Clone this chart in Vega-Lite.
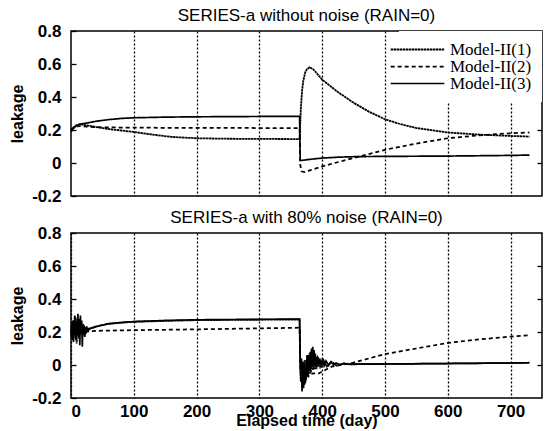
{
  "$schema": "https://vega.github.io/schema/vega-lite/v6.json",
  "background": "white",
  "padding": {"left": 8, "top": 6, "right": 2, "bottom": 0},
  "config": {
    "font": "Liberation Sans",
    "view": {"stroke": "black", "strokeWidth": 1.5},
    "title": {"fontSize": 17, "fontWeight": "normal", "color": "black", "offset": -3},
    "concat": {"spacing": 3},
    "line": {"color": "black"},
    "axis": {
      "labelFont": "Liberation Sans", "labelFontWeight": "bold", "labelFontSize": 17, "labelColor": "black",
      "titleFont": "Liberation Sans", "titleFontWeight": "bold", "titleFontSize": 16, "titleColor": "black",
      "domain": false, "tickColor": "black", "tickWidth": 1.3
    },
    "legend": {
      "orient": "top-right", "offset": 0, "title": null, "symbolType": "M-12,0H12", "symbolSize": 20,
      "symbolStrokeColor": "black", "labelFont": "Liberation Serif", "labelFontSize": 17, "labelColor": "black",
      "fillColor": "white", "padding": 10, "rowPadding": -6, "labelOffset": 24
    }
  },
  "datasets": {
    "rows": [
      {"panel": "a", "model": "Model-II(1)", "day": 0, "leakage": 0.2},
      {"panel": "a", "model": "Model-II(1)", "day": 4, "leakage": 0.215},
      {"panel": "a", "model": "Model-II(1)", "day": 8, "leakage": 0.228},
      {"panel": "a", "model": "Model-II(1)", "day": 14, "leakage": 0.235},
      {"panel": "a", "model": "Model-II(1)", "day": 25, "leakage": 0.228},
      {"panel": "a", "model": "Model-II(1)", "day": 40, "leakage": 0.218},
      {"panel": "a", "model": "Model-II(1)", "day": 60, "leakage": 0.206},
      {"panel": "a", "model": "Model-II(1)", "day": 80, "leakage": 0.197},
      {"panel": "a", "model": "Model-II(1)", "day": 100, "leakage": 0.188},
      {"panel": "a", "model": "Model-II(1)", "day": 130, "leakage": 0.172},
      {"panel": "a", "model": "Model-II(1)", "day": 160, "leakage": 0.158},
      {"panel": "a", "model": "Model-II(1)", "day": 200, "leakage": 0.15},
      {"panel": "a", "model": "Model-II(1)", "day": 250, "leakage": 0.147},
      {"panel": "a", "model": "Model-II(1)", "day": 300, "leakage": 0.146},
      {"panel": "a", "model": "Model-II(1)", "day": 364, "leakage": 0.145},
      {"panel": "a", "model": "Model-II(1)", "day": 366, "leakage": 0.33},
      {"panel": "a", "model": "Model-II(1)", "day": 368, "leakage": 0.44},
      {"panel": "a", "model": "Model-II(1)", "day": 370, "leakage": 0.5},
      {"panel": "a", "model": "Model-II(1)", "day": 373, "leakage": 0.55},
      {"panel": "a", "model": "Model-II(1)", "day": 376, "leakage": 0.57},
      {"panel": "a", "model": "Model-II(1)", "day": 380, "leakage": 0.58},
      {"panel": "a", "model": "Model-II(1)", "day": 385, "leakage": 0.57},
      {"panel": "a", "model": "Model-II(1)", "day": 390, "leakage": 0.55},
      {"panel": "a", "model": "Model-II(1)", "day": 400, "leakage": 0.505},
      {"panel": "a", "model": "Model-II(1)", "day": 425, "leakage": 0.43},
      {"panel": "a", "model": "Model-II(1)", "day": 450, "leakage": 0.365},
      {"panel": "a", "model": "Model-II(1)", "day": 475, "leakage": 0.31},
      {"panel": "a", "model": "Model-II(1)", "day": 500, "leakage": 0.265},
      {"panel": "a", "model": "Model-II(1)", "day": 525, "leakage": 0.235},
      {"panel": "a", "model": "Model-II(1)", "day": 550, "leakage": 0.212},
      {"panel": "a", "model": "Model-II(1)", "day": 600, "leakage": 0.185},
      {"panel": "a", "model": "Model-II(1)", "day": 650, "leakage": 0.172},
      {"panel": "a", "model": "Model-II(1)", "day": 700, "leakage": 0.164},
      {"panel": "a", "model": "Model-II(1)", "day": 730, "leakage": 0.16},

      {"panel": "a", "model": "Model-II(2)", "day": 0, "leakage": 0.2},
      {"panel": "a", "model": "Model-II(2)", "day": 4, "leakage": 0.215},
      {"panel": "a", "model": "Model-II(2)", "day": 8, "leakage": 0.222},
      {"panel": "a", "model": "Model-II(2)", "day": 14, "leakage": 0.224},
      {"panel": "a", "model": "Model-II(2)", "day": 25, "leakage": 0.22},
      {"panel": "a", "model": "Model-II(2)", "day": 50, "leakage": 0.216},
      {"panel": "a", "model": "Model-II(2)", "day": 100, "leakage": 0.214},
      {"panel": "a", "model": "Model-II(2)", "day": 200, "leakage": 0.213},
      {"panel": "a", "model": "Model-II(2)", "day": 300, "leakage": 0.212},
      {"panel": "a", "model": "Model-II(2)", "day": 364, "leakage": 0.212},
      {"panel": "a", "model": "Model-II(2)", "day": 365, "leakage": -0.01},
      {"panel": "a", "model": "Model-II(2)", "day": 367, "leakage": -0.05},
      {"panel": "a", "model": "Model-II(2)", "day": 372, "leakage": -0.055},
      {"panel": "a", "model": "Model-II(2)", "day": 380, "leakage": -0.045},
      {"panel": "a", "model": "Model-II(2)", "day": 400, "leakage": -0.02},
      {"panel": "a", "model": "Model-II(2)", "day": 430, "leakage": 0.01},
      {"panel": "a", "model": "Model-II(2)", "day": 450, "leakage": 0.03},
      {"panel": "a", "model": "Model-II(2)", "day": 500, "leakage": 0.08},
      {"panel": "a", "model": "Model-II(2)", "day": 550, "leakage": 0.118},
      {"panel": "a", "model": "Model-II(2)", "day": 600, "leakage": 0.15},
      {"panel": "a", "model": "Model-II(2)", "day": 650, "leakage": 0.168},
      {"panel": "a", "model": "Model-II(2)", "day": 700, "leakage": 0.18},
      {"panel": "a", "model": "Model-II(2)", "day": 730, "leakage": 0.185},

      {"panel": "a", "model": "Model-II(3)", "day": 0, "leakage": 0.19},
      {"panel": "a", "model": "Model-II(3)", "day": 4, "leakage": 0.21},
      {"panel": "a", "model": "Model-II(3)", "day": 8, "leakage": 0.225},
      {"panel": "a", "model": "Model-II(3)", "day": 14, "leakage": 0.235},
      {"panel": "a", "model": "Model-II(3)", "day": 25, "leakage": 0.242},
      {"panel": "a", "model": "Model-II(3)", "day": 40, "leakage": 0.253},
      {"panel": "a", "model": "Model-II(3)", "day": 60, "leakage": 0.263},
      {"panel": "a", "model": "Model-II(3)", "day": 80, "leakage": 0.27},
      {"panel": "a", "model": "Model-II(3)", "day": 100, "leakage": 0.274},
      {"panel": "a", "model": "Model-II(3)", "day": 150, "leakage": 0.278},
      {"panel": "a", "model": "Model-II(3)", "day": 200, "leakage": 0.28},
      {"panel": "a", "model": "Model-II(3)", "day": 300, "leakage": 0.282},
      {"panel": "a", "model": "Model-II(3)", "day": 364, "leakage": 0.282},
      {"panel": "a", "model": "Model-II(3)", "day": 365, "leakage": 0.015},
      {"panel": "a", "model": "Model-II(3)", "day": 370, "leakage": 0.017},
      {"panel": "a", "model": "Model-II(3)", "day": 380, "leakage": 0.022},
      {"panel": "a", "model": "Model-II(3)", "day": 400, "leakage": 0.03},
      {"panel": "a", "model": "Model-II(3)", "day": 430, "leakage": 0.036},
      {"panel": "a", "model": "Model-II(3)", "day": 460, "leakage": 0.039},
      {"panel": "a", "model": "Model-II(3)", "day": 500, "leakage": 0.04},
      {"panel": "a", "model": "Model-II(3)", "day": 600, "leakage": 0.042},
      {"panel": "a", "model": "Model-II(3)", "day": 700, "leakage": 0.046},
      {"panel": "a", "model": "Model-II(3)", "day": 730, "leakage": 0.048},

      {"panel": "b", "model": "Model-II(1)", "day": 0, "leakage": 0.21},
      {"panel": "b", "model": "Model-II(1)", "day": 1, "leakage": 0.17},
      {"panel": "b", "model": "Model-II(1)", "day": 2, "leakage": 0.26},
      {"panel": "b", "model": "Model-II(1)", "day": 3, "leakage": 0.15},
      {"panel": "b", "model": "Model-II(1)", "day": 4, "leakage": 0.27},
      {"panel": "b", "model": "Model-II(1)", "day": 5, "leakage": 0.19},
      {"panel": "b", "model": "Model-II(1)", "day": 6, "leakage": 0.3},
      {"panel": "b", "model": "Model-II(1)", "day": 7, "leakage": 0.16},
      {"panel": "b", "model": "Model-II(1)", "day": 8, "leakage": 0.24},
      {"panel": "b", "model": "Model-II(1)", "day": 9, "leakage": 0.13},
      {"panel": "b", "model": "Model-II(1)", "day": 10, "leakage": 0.28},
      {"panel": "b", "model": "Model-II(1)", "day": 11, "leakage": 0.18},
      {"panel": "b", "model": "Model-II(1)", "day": 12, "leakage": 0.26},
      {"panel": "b", "model": "Model-II(1)", "day": 13, "leakage": 0.16},
      {"panel": "b", "model": "Model-II(1)", "day": 14, "leakage": 0.25},
      {"panel": "b", "model": "Model-II(1)", "day": 15, "leakage": 0.2},
      {"panel": "b", "model": "Model-II(1)", "day": 17, "leakage": 0.23},
      {"panel": "b", "model": "Model-II(1)", "day": 19, "leakage": 0.18},
      {"panel": "b", "model": "Model-II(1)", "day": 21, "leakage": 0.22},
      {"panel": "b", "model": "Model-II(1)", "day": 23, "leakage": 0.2},
      {"panel": "b", "model": "Model-II(1)", "day": 26, "leakage": 0.215},
      {"panel": "b", "model": "Model-II(1)", "day": 30, "leakage": 0.222},
      {"panel": "b", "model": "Model-II(1)", "day": 40, "leakage": 0.234},
      {"panel": "b", "model": "Model-II(1)", "day": 60, "leakage": 0.25},
      {"panel": "b", "model": "Model-II(1)", "day": 100, "leakage": 0.262},
      {"panel": "b", "model": "Model-II(1)", "day": 200, "leakage": 0.272},
      {"panel": "b", "model": "Model-II(1)", "day": 364, "leakage": 0.276},
      {"panel": "b", "model": "Model-II(1)", "day": 365, "leakage": 0.02},
      {"panel": "b", "model": "Model-II(1)", "day": 366, "leakage": -0.1},
      {"panel": "b", "model": "Model-II(1)", "day": 367, "leakage": 0.04},
      {"panel": "b", "model": "Model-II(1)", "day": 368, "leakage": -0.13},
      {"panel": "b", "model": "Model-II(1)", "day": 369, "leakage": 0.02},
      {"panel": "b", "model": "Model-II(1)", "day": 370, "leakage": -0.14},
      {"panel": "b", "model": "Model-II(1)", "day": 371, "leakage": -0.02},
      {"panel": "b", "model": "Model-II(1)", "day": 372, "leakage": 0.03},
      {"panel": "b", "model": "Model-II(1)", "day": 373, "leakage": -0.11},
      {"panel": "b", "model": "Model-II(1)", "day": 374, "leakage": -0.08},
      {"panel": "b", "model": "Model-II(1)", "day": 375, "leakage": 0.01},
      {"panel": "b", "model": "Model-II(1)", "day": 376, "leakage": 0.06},
      {"panel": "b", "model": "Model-II(1)", "day": 377, "leakage": -0.06},
      {"panel": "b", "model": "Model-II(1)", "day": 378, "leakage": -0.07},
      {"panel": "b", "model": "Model-II(1)", "day": 379, "leakage": 0.03},
      {"panel": "b", "model": "Model-II(1)", "day": 380, "leakage": 0.07},
      {"panel": "b", "model": "Model-II(1)", "day": 381, "leakage": -0.05},
      {"panel": "b", "model": "Model-II(1)", "day": 382, "leakage": -0.04},
      {"panel": "b", "model": "Model-II(1)", "day": 383, "leakage": 0.08},
      {"panel": "b", "model": "Model-II(1)", "day": 384, "leakage": 0.06},
      {"panel": "b", "model": "Model-II(1)", "day": 385, "leakage": -0.02},
      {"panel": "b", "model": "Model-II(1)", "day": 386, "leakage": -0.03},
      {"panel": "b", "model": "Model-II(1)", "day": 387, "leakage": 0.07},
      {"panel": "b", "model": "Model-II(1)", "day": 388, "leakage": 0.05},
      {"panel": "b", "model": "Model-II(1)", "day": 389, "leakage": -0.02},
      {"panel": "b", "model": "Model-II(1)", "day": 391, "leakage": -0.02},
      {"panel": "b", "model": "Model-II(1)", "day": 393, "leakage": 0.045},
      {"panel": "b", "model": "Model-II(1)", "day": 395, "leakage": 0.03},
      {"panel": "b", "model": "Model-II(1)", "day": 397, "leakage": -0.015},
      {"panel": "b", "model": "Model-II(1)", "day": 399, "leakage": -0.01},
      {"panel": "b", "model": "Model-II(1)", "day": 402, "leakage": 0.03},
      {"panel": "b", "model": "Model-II(1)", "day": 404, "leakage": 0.02},
      {"panel": "b", "model": "Model-II(1)", "day": 407, "leakage": -0.01},
      {"panel": "b", "model": "Model-II(1)", "day": 410, "leakage": -0.005},
      {"panel": "b", "model": "Model-II(1)", "day": 414, "leakage": 0.02},
      {"panel": "b", "model": "Model-II(1)", "day": 418, "leakage": 0.012},
      {"panel": "b", "model": "Model-II(1)", "day": 423, "leakage": -0.004},
      {"panel": "b", "model": "Model-II(1)", "day": 428, "leakage": 0.002},
      {"panel": "b", "model": "Model-II(1)", "day": 434, "leakage": 0.01},
      {"panel": "b", "model": "Model-II(1)", "day": 440, "leakage": 0.006},
      {"panel": "b", "model": "Model-II(1)", "day": 500, "leakage": 0.006},
      {"panel": "b", "model": "Model-II(1)", "day": 600, "leakage": 0.009},
      {"panel": "b", "model": "Model-II(1)", "day": 730, "leakage": 0.013},

      {"panel": "b", "model": "Model-II(2)", "day": 0, "leakage": 0.2},
      {"panel": "b", "model": "Model-II(2)", "day": 5, "leakage": 0.22},
      {"panel": "b", "model": "Model-II(2)", "day": 10, "leakage": 0.19},
      {"panel": "b", "model": "Model-II(2)", "day": 15, "leakage": 0.215},
      {"panel": "b", "model": "Model-II(2)", "day": 20, "leakage": 0.2},
      {"panel": "b", "model": "Model-II(2)", "day": 30, "leakage": 0.205},
      {"panel": "b", "model": "Model-II(2)", "day": 50, "leakage": 0.208},
      {"panel": "b", "model": "Model-II(2)", "day": 100, "leakage": 0.211},
      {"panel": "b", "model": "Model-II(2)", "day": 200, "leakage": 0.216},
      {"panel": "b", "model": "Model-II(2)", "day": 300, "leakage": 0.222},
      {"panel": "b", "model": "Model-II(2)", "day": 364, "leakage": 0.226},
      {"panel": "b", "model": "Model-II(2)", "day": 365, "leakage": 0.0},
      {"panel": "b", "model": "Model-II(2)", "day": 367, "leakage": -0.1},
      {"panel": "b", "model": "Model-II(2)", "day": 369, "leakage": -0.03},
      {"panel": "b", "model": "Model-II(2)", "day": 371, "leakage": -0.09},
      {"panel": "b", "model": "Model-II(2)", "day": 374, "leakage": -0.04},
      {"panel": "b", "model": "Model-II(2)", "day": 378, "leakage": -0.07},
      {"panel": "b", "model": "Model-II(2)", "day": 385, "leakage": -0.05},
      {"panel": "b", "model": "Model-II(2)", "day": 395, "leakage": -0.05},
      {"panel": "b", "model": "Model-II(2)", "day": 405, "leakage": -0.03},
      {"panel": "b", "model": "Model-II(2)", "day": 415, "leakage": -0.01},
      {"panel": "b", "model": "Model-II(2)", "day": 430, "leakage": 0.0},
      {"panel": "b", "model": "Model-II(2)", "day": 450, "leakage": 0.015},
      {"panel": "b", "model": "Model-II(2)", "day": 500, "leakage": 0.066},
      {"panel": "b", "model": "Model-II(2)", "day": 550, "leakage": 0.1},
      {"panel": "b", "model": "Model-II(2)", "day": 600, "leakage": 0.134},
      {"panel": "b", "model": "Model-II(2)", "day": 650, "leakage": 0.155},
      {"panel": "b", "model": "Model-II(2)", "day": 700, "leakage": 0.172},
      {"panel": "b", "model": "Model-II(2)", "day": 730, "leakage": 0.18},

      {"panel": "b", "model": "Model-II(3)", "day": 0, "leakage": 0.2},
      {"panel": "b", "model": "Model-II(3)", "day": 1, "leakage": 0.24},
      {"panel": "b", "model": "Model-II(3)", "day": 2, "leakage": 0.16},
      {"panel": "b", "model": "Model-II(3)", "day": 3, "leakage": 0.27},
      {"panel": "b", "model": "Model-II(3)", "day": 4, "leakage": 0.14},
      {"panel": "b", "model": "Model-II(3)", "day": 5, "leakage": 0.25},
      {"panel": "b", "model": "Model-II(3)", "day": 6, "leakage": 0.18},
      {"panel": "b", "model": "Model-II(3)", "day": 7, "leakage": 0.29},
      {"panel": "b", "model": "Model-II(3)", "day": 8, "leakage": 0.15},
      {"panel": "b", "model": "Model-II(3)", "day": 9, "leakage": 0.26},
      {"panel": "b", "model": "Model-II(3)", "day": 10, "leakage": 0.2},
      {"panel": "b", "model": "Model-II(3)", "day": 11, "leakage": 0.31},
      {"panel": "b", "model": "Model-II(3)", "day": 12, "leakage": 0.17},
      {"panel": "b", "model": "Model-II(3)", "day": 13, "leakage": 0.28},
      {"panel": "b", "model": "Model-II(3)", "day": 14, "leakage": 0.12},
      {"panel": "b", "model": "Model-II(3)", "day": 15, "leakage": 0.3},
      {"panel": "b", "model": "Model-II(3)", "day": 16, "leakage": 0.19},
      {"panel": "b", "model": "Model-II(3)", "day": 17, "leakage": 0.27},
      {"panel": "b", "model": "Model-II(3)", "day": 18, "leakage": 0.11},
      {"panel": "b", "model": "Model-II(3)", "day": 19, "leakage": 0.25},
      {"panel": "b", "model": "Model-II(3)", "day": 20, "leakage": 0.2},
      {"panel": "b", "model": "Model-II(3)", "day": 21, "leakage": 0.24},
      {"panel": "b", "model": "Model-II(3)", "day": 22, "leakage": 0.17},
      {"panel": "b", "model": "Model-II(3)", "day": 23, "leakage": 0.23},
      {"panel": "b", "model": "Model-II(3)", "day": 24, "leakage": 0.19},
      {"panel": "b", "model": "Model-II(3)", "day": 25, "leakage": 0.235},
      {"panel": "b", "model": "Model-II(3)", "day": 26, "leakage": 0.205},
      {"panel": "b", "model": "Model-II(3)", "day": 27, "leakage": 0.225},
      {"panel": "b", "model": "Model-II(3)", "day": 28, "leakage": 0.21},
      {"panel": "b", "model": "Model-II(3)", "day": 30, "leakage": 0.22},
      {"panel": "b", "model": "Model-II(3)", "day": 35, "leakage": 0.225},
      {"panel": "b", "model": "Model-II(3)", "day": 40, "leakage": 0.232},
      {"panel": "b", "model": "Model-II(3)", "day": 50, "leakage": 0.242},
      {"panel": "b", "model": "Model-II(3)", "day": 60, "leakage": 0.25},
      {"panel": "b", "model": "Model-II(3)", "day": 80, "leakage": 0.258},
      {"panel": "b", "model": "Model-II(3)", "day": 100, "leakage": 0.263},
      {"panel": "b", "model": "Model-II(3)", "day": 150, "leakage": 0.27},
      {"panel": "b", "model": "Model-II(3)", "day": 200, "leakage": 0.274},
      {"panel": "b", "model": "Model-II(3)", "day": 300, "leakage": 0.277},
      {"panel": "b", "model": "Model-II(3)", "day": 364, "leakage": 0.278},
      {"panel": "b", "model": "Model-II(3)", "day": 365, "leakage": 0.02},
      {"panel": "b", "model": "Model-II(3)", "day": 366, "leakage": -0.1},
      {"panel": "b", "model": "Model-II(3)", "day": 367, "leakage": -0.03},
      {"panel": "b", "model": "Model-II(3)", "day": 368, "leakage": -0.16},
      {"panel": "b", "model": "Model-II(3)", "day": 369, "leakage": -0.05},
      {"panel": "b", "model": "Model-II(3)", "day": 370, "leakage": -0.14},
      {"panel": "b", "model": "Model-II(3)", "day": 371, "leakage": 0.0},
      {"panel": "b", "model": "Model-II(3)", "day": 372, "leakage": -0.12},
      {"panel": "b", "model": "Model-II(3)", "day": 373, "leakage": -0.02},
      {"panel": "b", "model": "Model-II(3)", "day": 374, "leakage": -0.09},
      {"panel": "b", "model": "Model-II(3)", "day": 375, "leakage": 0.03},
      {"panel": "b", "model": "Model-II(3)", "day": 376, "leakage": -0.07},
      {"panel": "b", "model": "Model-II(3)", "day": 377, "leakage": 0.05},
      {"panel": "b", "model": "Model-II(3)", "day": 378, "leakage": -0.04},
      {"panel": "b", "model": "Model-II(3)", "day": 379, "leakage": 0.06},
      {"panel": "b", "model": "Model-II(3)", "day": 380, "leakage": -0.03},
      {"panel": "b", "model": "Model-II(3)", "day": 381, "leakage": 0.08},
      {"panel": "b", "model": "Model-II(3)", "day": 382, "leakage": -0.02},
      {"panel": "b", "model": "Model-II(3)", "day": 383, "leakage": 0.1},
      {"panel": "b", "model": "Model-II(3)", "day": 384, "leakage": 0.0},
      {"panel": "b", "model": "Model-II(3)", "day": 385, "leakage": 0.11},
      {"panel": "b", "model": "Model-II(3)", "day": 386, "leakage": -0.01},
      {"panel": "b", "model": "Model-II(3)", "day": 387, "leakage": 0.09},
      {"panel": "b", "model": "Model-II(3)", "day": 388, "leakage": 0.0},
      {"panel": "b", "model": "Model-II(3)", "day": 389, "leakage": 0.07},
      {"panel": "b", "model": "Model-II(3)", "day": 390, "leakage": -0.01},
      {"panel": "b", "model": "Model-II(3)", "day": 392, "leakage": 0.05},
      {"panel": "b", "model": "Model-II(3)", "day": 394, "leakage": -0.01},
      {"panel": "b", "model": "Model-II(3)", "day": 396, "leakage": 0.04},
      {"panel": "b", "model": "Model-II(3)", "day": 398, "leakage": 0.0},
      {"panel": "b", "model": "Model-II(3)", "day": 400, "leakage": 0.03},
      {"panel": "b", "model": "Model-II(3)", "day": 403, "leakage": -0.005},
      {"panel": "b", "model": "Model-II(3)", "day": 406, "leakage": 0.025},
      {"panel": "b", "model": "Model-II(3)", "day": 410, "leakage": 0.0},
      {"panel": "b", "model": "Model-II(3)", "day": 414, "leakage": 0.018},
      {"panel": "b", "model": "Model-II(3)", "day": 418, "leakage": 0.0},
      {"panel": "b", "model": "Model-II(3)", "day": 422, "leakage": 0.012},
      {"panel": "b", "model": "Model-II(3)", "day": 428, "leakage": 0.002},
      {"panel": "b", "model": "Model-II(3)", "day": 435, "leakage": 0.008},
      {"panel": "b", "model": "Model-II(3)", "day": 445, "leakage": 0.003},
      {"panel": "b", "model": "Model-II(3)", "day": 460, "leakage": 0.005},
      {"panel": "b", "model": "Model-II(3)", "day": 500, "leakage": 0.006},
      {"panel": "b", "model": "Model-II(3)", "day": 600, "leakage": 0.009},
      {"panel": "b", "model": "Model-II(3)", "day": 700, "leakage": 0.012},
      {"panel": "b", "model": "Model-II(3)", "day": 730, "leakage": 0.014}
    ]
  },
  "data": {"name": "rows"},
  "vconcat": [
    {
      "title": "SERIES-a without noise (RAIN=0)",
      "width": 471,
      "height": 165,
      "transform": [{"filter": "datum.panel == 'a'"}],
      "encoding": {
        "x": {
          "field": "day", "type": "quantitative",
          "scale": {"domain": [0, 750], "nice": false, "zero": false},
          "axis": {"values": [100, 200, 300, 400, 500, 600, 700], "labels": false, "ticks": false, "title": null,
                   "grid": true, "gridColor": "black", "gridDash": [2, 2], "gridWidth": 1.3, "gridOpacity": 1}
        },
        "strokeDash": {
          "field": "model", "type": "nominal",
          "scale": {"domain": ["Model-II(1)", "Model-II(2)", "Model-II(3)"], "range": [[2.5, 0.5], [4, 3], [1, 0]]}
        },
        "strokeWidth": {
          "field": "model", "type": "nominal",
          "scale": {"domain": ["Model-II(1)", "Model-II(2)", "Model-II(3)"], "range": [1.8, 1.7, 2.1]}
        }
      },
      "layer": [
        {
          "transform": [{"filter": "datum.model != 'Model-II(3)'"}],
          "mark": "line",
          "encoding": {
            "y": {
              "field": "leakage", "type": "quantitative",
              "scale": {"domain": [-0.2, 0.8], "nice": false, "zero": false},
              "axis": {"orient": "left", "values": [-0.2, 0, 0.2, 0.4, 0.6, 0.8], "grid": false, "title": "leakage",
                       "labelExpr": "abs(datum.value) < 1e-9 ? '0' : (datum.value < 0 ? '-' + format(-datum.value, '.1f') : format(datum.value, '.1f'))",
                       "offset": -5, "tickSize": 5, "labelPadding": 10, "titlePadding": 6}
            }
          }
        },
        {
          "transform": [{"filter": "datum.model == 'Model-II(3)'"}],
          "mark": "line",
          "encoding": {
            "y": {
              "field": "leakage", "type": "quantitative",
              "scale": {"domain": [-0.2, 0.8], "nice": false, "zero": false},
              "axis": {"orient": "right", "values": [0, 0.2, 0.4, 0.6], "grid": false, "title": null, "labels": false,
                       "offset": -5, "tickSize": 5}
            }
          }
        }
      ],
      "resolve": {"axis": {"y": "independent"}}
    },
    {
      "title": "SERIES-a with 80% noise (RAIN=0)",
      "width": 471,
      "height": 165,
      "transform": [{"filter": "datum.panel == 'b'"}],
      "encoding": {
        "x": {
          "field": "day", "type": "quantitative",
          "scale": {"domain": [0, 750], "nice": false, "zero": false},
          "axis": {"values": [0, 100, 200, 300, 400, 500, 600, 700], "ticks": false, "title": "Elapsed time (day)",
                   "labelPadding": 5, "titlePadding": -7,
                   "grid": true, "gridColor": "black", "gridDash": [2, 2], "gridWidth": 1.3, "gridOpacity": 1}
        },
        "strokeDash": {
          "field": "model", "type": "nominal",
          "scale": {"domain": ["Model-II(1)", "Model-II(2)", "Model-II(3)"], "range": [[2.5, 0.5], [4, 3], [1, 0]]},
          "legend": null
        },
        "strokeWidth": {
          "field": "model", "type": "nominal",
          "scale": {"domain": ["Model-II(1)", "Model-II(2)", "Model-II(3)"], "range": [1.8, 1.7, 2.1]},
          "legend": null
        }
      },
      "layer": [
        {
          "transform": [{"filter": "datum.model != 'Model-II(3)'"}],
          "mark": "line",
          "encoding": {
            "y": {
              "field": "leakage", "type": "quantitative",
              "scale": {"domain": [-0.2, 0.8], "nice": false, "zero": false},
              "axis": {"orient": "left", "values": [-0.2, 0, 0.2, 0.4, 0.6, 0.8], "grid": false, "title": "leakage",
                       "labelExpr": "abs(datum.value) < 1e-9 ? '0' : (datum.value < 0 ? '-' + format(-datum.value, '.1f') : format(datum.value, '.1f'))",
                       "offset": -5, "tickSize": 5, "labelPadding": 10, "titlePadding": 6}
            }
          }
        },
        {
          "transform": [{"filter": "datum.model == 'Model-II(3)'"}],
          "mark": "line",
          "encoding": {
            "y": {
              "field": "leakage", "type": "quantitative",
              "scale": {"domain": [-0.2, 0.8], "nice": false, "zero": false},
              "axis": {"orient": "right", "values": [0, 0.2, 0.4, 0.6], "grid": false, "title": null, "labels": false,
                       "offset": -5, "tickSize": 5}
            }
          }
        }
      ],
      "resolve": {"axis": {"y": "independent"}}
    }
  ],
  "resolve": {"legend": {"strokeDash": "independent", "strokeWidth": "independent"}}
}
